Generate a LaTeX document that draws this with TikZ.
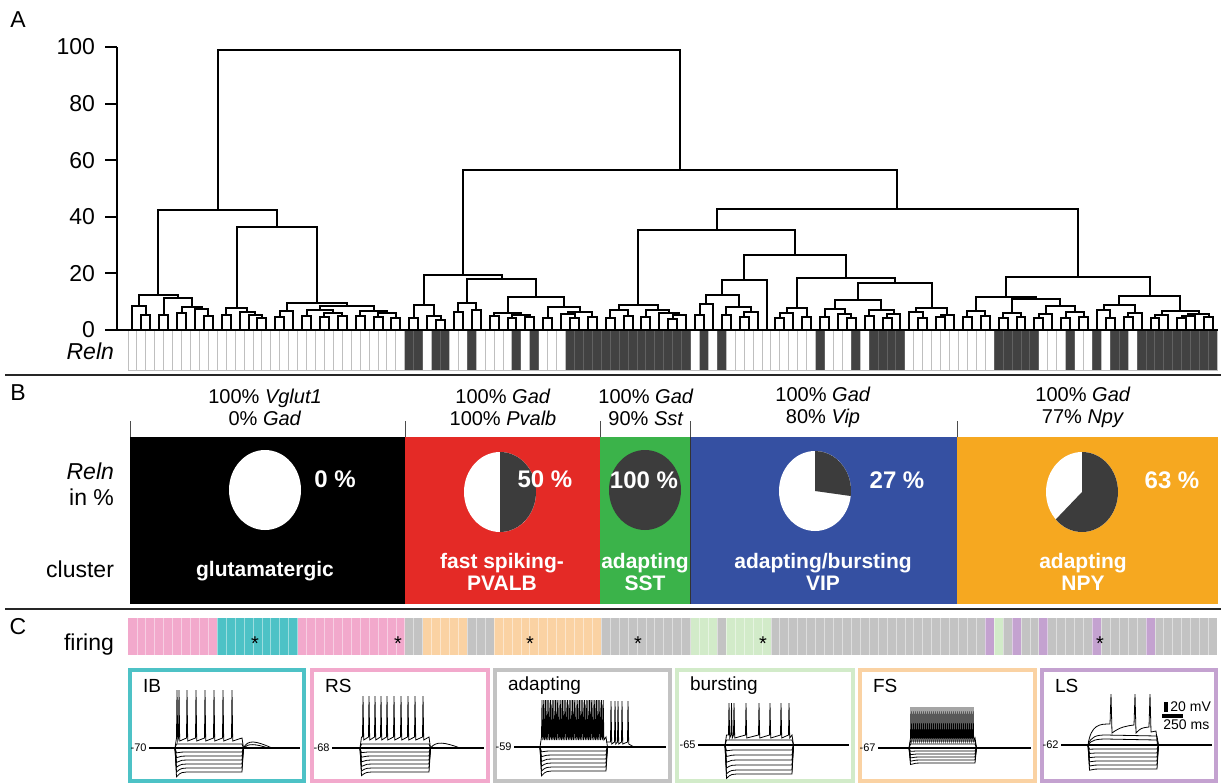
\documentclass[tikz,border=0pt]{standalone}
\usepackage{fontspec}
\setmainfont{Liberation Sans}
\definecolor{cred}{HTML}{E42A26}
\definecolor{cgreen}{HTML}{3BB34A}
\definecolor{cblue}{HTML}{3550A2}
\definecolor{corange}{HTML}{F6A820}
\definecolor{pdark}{HTML}{3C3C3C}
\definecolor{relndark}{HTML}{424242}
\definecolor{fpink}{HTML}{F2A9CC}
\definecolor{fcyan}{HTML}{4DC2C6}
\definecolor{fgrey}{HTML}{C3C3C3}
\definecolor{forange}{HTML}{FAD2A3}
\definecolor{fgreen}{HTML}{D2EBC9}
\definecolor{fpurple}{HTML}{C4A2D0}
\newcount\stkp
\newcount\leafn
\def\pushnode#1#2{\global\advance\stkp by 1\relax
  \expandafter\xdef\csname stx\the\stkp\endcsname{#1}%
  \expandafter\xdef\csname sty\the\stkp\endcsname{#2}}
\tikzset{
  dend/.style={line width=1pt},
  tr/.style={line width=0.4pt},
  sep/.style={line width=1.3pt, black!85},
  plab/.style={font=\fontsize{11.5}{13}\selectfont},
  ax/.style={font=\fontsize{11.5}{13}\selectfont},
  gene/.style={font=\fontsize{10}{11}\selectfont, align=center},
  wb/.style={font=\bfseries\fontsize{10.5}{11}\selectfont, text=white, align=center},
  pct/.style={font=\bfseries\fontsize{12}{13}\selectfont, text=white},
  tlab/.style={font=\fontsize{9.5}{11}\selectfont, anchor=west},
  vlab/.style={font=\fontsize{5.5}{6}\selectfont, anchor=east, inner sep=0.5pt},
  star/.style={font=\fontsize{10}{11}\selectfont}
}
\newcommand\hypset[5]{% xs, xe, yb, depths, sag
  \foreach \dep in {#4}{\draw[tr] (#1,#3) -- ({#1+1.5},{#3+\dep*#5}) .. controls ({#1+6},{#3+\dep}) .. ({#1+18},{#3+\dep}) -- (#2,{#3+\dep}) -- ({#2+1.5},#3);}}
\newcommand\spiketrain[6]{% xs, xe, yb, yp, ytop, list
  \draw[tr] (#1,#3) -- ({#1+1.5},#4) \foreach \s in {#6}{ -- ({\s-0.5},#4) -- (\s,#5) -- ({\s+0.7},{#4+3}) } -- (#2,#4) -- ({#2+1.5},#3);}
\newcommand\pieR[3]{%
  \begin{scope}[shift={(#1,#2)}]
  \fill[white] (0,0) ellipse [x radius=36, y radius=40];
  \fill[pdark] (0,0) -- (0,-40) arc[start angle=-90, end angle={-90+3.6*#3}, x radius=36, y radius=40] -- cycle;
  \end{scope}}
\begin{document}
\begin{tikzpicture}[x=0.5pt,y=-0.5pt]
\useasboundingbox (0,0) rectangle (1221,783);
\fill[white] (0,0) rectangle (1221,783);

% ---------------- Panel A ----------------
\node[plab] (labA) at (18,20) {A};
\draw[dend] (117,47) -- (117,330);
\draw[dend] (105,330) -- (1218,330);
\foreach \k/\v in {0/0,1/20,2/40,3/60,4/80,5/100}{
  \draw[dend] (105,{330-56.6*\k}) -- (117,{330-56.6*\k});
  \node[ax, anchor=east] (tick\k) at (102,{330-56.6*\k}) {\v};
}
% dendrogram (postfix: L = leaf, number = merge height in px)
\global\stkp=0 \global\leafn=0
\foreach \tok in {%
L,L,L,315,306,L,L,315,L,L,313,L,L,L,316,309,307,298,295,%
L,L,315,L,L,L,L,318,315,312,308,%
L,L,317,L,311,%
L,L,316,L,L,317,L,L,316,313,310,%
L,L,316,L,L,317,L,L,318,313,311,%
306,303,227,210,%
L,L,318,L,L,L,320,316,305,%
L,L,312,L,L,310,303,%
L,L,316,L,L,318,L,L,317,315,313,%
L,L,318,L,L,L,318,314,L,L,317,312,307,%
297,279,275,%
L,L,318,L,L,316,310,%
L,L,317,L,L,L,319,L,315,313,310,%
305,%
L,L,315,L,304,%
L,L,315,L,L,317,L,312,307,%
295,L,280,%
L,L,318,L,313,L,L,317,308,%
L,L,317,L,L,L,318,314,309,%
L,L,316,L,L,318,L,314,310,%
300,%
L,L,L,318,312,L,L,317,L,315,308,%
283,278,255,%
230,%
L,L,317,L,L,316,311,%
L,L,318,L,L,317,313,%
L,L,318,L,314,L,L,318,L,L,317,312,306,%
299,297,%
L,L,L,318,310,L,L,317,L,313,305,%
L,L,318,L,315,L,L,318,L,316,L,L,317,314,311,%
296,277,%
209,170,50}{%
  \if L\tok
    \pgfmathsetmacro\lx{132.47+8.93*\the\leafn}%
    \global\advance\leafn by 1\relax
    \pushnode{\lx}{330}%
  \else
    \edef\xr{\csname stx\the\stkp\endcsname}%
    \edef\yr{\csname sty\the\stkp\endcsname}%
    \global\advance\stkp by -1\relax
    \edef\xl{\csname stx\the\stkp\endcsname}%
    \edef\yl{\csname sty\the\stkp\endcsname}%
    \global\advance\stkp by -1\relax
    \draw[dend] (\xl,\yl) -- (\xl,\tok) -- (\xr,\tok) -- (\xr,\yr);
    \pgfmathsetmacro\xm{(\xl+\xr)/2}%
    \pushnode{\xm}{\tok}%
  \fi
}
% Reln stripes
\foreach \i in {31,32,34,35,38,43,45,49,50,51,52,53,54,55,56,57,58,59,60,61,62,64,66,77,81,83,84,85,86,97,98,99,100,101,105,108,110,111,113,114,115,116,117,118,119,120,121}
  \fill[relndark] ({128+8.93*\i},331) rectangle ({128+8.93*(\i+1)},370);
\foreach \i in {0,...,122}
  \draw[gray, opacity=.5, line width=0.5pt] ({128+8.93*\i},331) -- ({128+8.93*\i},370);
\draw[gray!50, line width=0.5pt] (128,370.5) -- (1217.5,370.5);
\node[ax, anchor=east, font=\itshape\fontsize{11.5}{13}\selectfont] (relnA) at (121,351) {Reln};
\draw[sep] (5,375) -- (1221,375);

% ---------------- Panel B ----------------
\node[plab] (labB) at (18,393) {B};
\foreach \x in {130,405,600,690,957}
  \draw[black!70, line width=0.5pt] (\x,421) -- (\x,437);
\fill[black]   (130,437) rectangle (405,604);
\fill[cred]    (405,437) rectangle (600,604);
\fill[cgreen]  (600,437) rectangle (690,604);
\fill[cblue]   (690,437) rectangle (957,604);
\fill[corange] (957,437) rectangle (1218,604);
\draw[black!80, line width=0.4pt] (690,437) -- (690,604);
\node[gene] (g1) at (265,407) {100\% \textit{Vglut1}\\0\% \textit{Gad}};
\node[gene] (g2) at (503,407) {100\% \textit{Gad}\\100\% \textit{Pvalb}};
\node[gene] (g3) at (646,407) {100\% \textit{Gad}\\90\% \textit{Sst}};
\node[gene] (g4) at (823,407) {100\% \textit{Gad}\\80\% \textit{Vip}};
\node[gene] (g5) at (1083,407) {100\% \textit{Gad}\\77\% \textit{Npy}};
\node[ax, anchor=east, align=right] (relnB) at (121,484) {\textit{Reln}\\in \%};
\node[ax, anchor=east] (clus) at (121,569) {cluster};
\fill[white] (265,490) ellipse [x radius=36, y radius=40];
\pieR{500}{492}{50}
\fill[pdark] (645,490) ellipse [x radius=36, y radius=40];
\pieR{815}{491}{27}
\pieR{1082}{492}{63}
\node[pct] (p1) at (335,479) {0 \%};
\node[pct] (p2) at (545,479) {50 \%};
\node[pct] (p3) at (644,480) {100 \%};
\node[pct] (p4) at (897,480) {27 \%};
\node[pct] (p5) at (1172,480) {63 \%};
\node[wb] (c1) at (265,571) {glutamatergic};
\node[wb] (c2) at (502,572) {fast spiking-\\PVALB};
\node[wb] (c3) at (645,572) {adapting\\SST};
\node[wb] (c4) at (823,572) {adapting/bursting\\VIP};
\node[wb] (c5) at (1083,572) {adapting\\NPY};
\draw[sep] (5,609) -- (1221,609);

% ---------------- Panel C ----------------
\node[plab] (labC) at (18,627) {C};
\node[ax, anchor=east] (fir) at (121,645) {firing};
\foreach \a/\b/\c in {0/9/fpink,10/18/fcyan,19/30/fpink,31/32/fgrey,33/37/forange,38/40/fgrey,41/52/forange,53/62/fgrey,63/65/fgreen,66/66/fgrey,67/71/fgreen,72/95/fgrey,96/96/fpurple,97/97/fgreen,98/98/fgrey,99/99/fpurple,100/101/fgrey,102/102/fpurple,103/107/fgrey,108/108/fpurple,109/113/fgrey,114/114/fpurple,115/121/fgrey}
  \fill[\c] ({128+8.93*\a},618) rectangle ({128+8.93*(\b+1)},655);
\foreach \i in {1,...,121}
  \draw[white, opacity=.45, line width=0.4pt] ({128+8.93*\i},618) -- ({128+8.93*\i},655);
\foreach \x [count=\n] in {255,398,530,638,763,1100}
  \node[star] (ast\n) at (\x,644) {*};

% trace boxes
\foreach \nm/\xa/\xb/\c/\t in {bIB/128/306/fcyan/IB,bRS/310/490/fpink/RS,bAD/493/672/fgrey/adapting,bBU/675/855/fgreen/bursting,bFS/858/1037/forange/FS,bLS/1040/1218/fpurple/LS}{
  \draw[\c, line width=2pt] ({\xa+2},670) rectangle ({\xb-2},781);
  \node[tlab] (\nm lab) at ({\xa+8},686) {\t};
}
% IB
\node[vlab] (vIB) at (148,748) {-70};
\draw[tr, line width=0.9pt] (149,748) -- (300,748);
\hypset{175}{242}{748}{4,8,12,16,20,24}{1.2}
\draw[tr] (175,748) -- (176.5,744) -- (242,744) -- (243.5,748);
\spiketrain{175}{242}{748}{738}{690}{177,179,187,196,205,214,223,232}
\draw[tr] (243.5,748) .. controls (248,739) and (256,741) .. (272,748);
\draw[tr] (243.5,748) .. controls (248,743) and (256,744) .. (268,748);
% RS
\node[vlab] (vRS) at (331,748) {-68};
\draw[tr, line width=0.9pt] (332,748) -- (484,748);
\hypset{360}{429}{748}{4,8,12,16,20,24}{1.15}
\draw[tr] (360,748) -- (361.5,744) -- (429,744) -- (430.5,748);
\spiketrain{360}{429}{748}{737}{696}{363,369,375,381,387,394,401,408,415,423}
\draw[tr] (430.5,748) .. controls (436,741) and (444,742) .. (460,748);
% adapting
\node[vlab] (vAD) at (513,747) {-59};
\draw[tr, line width=0.9pt] (514,747) -- (666,747);
\hypset{540}{606}{747}{4,8,12,16,20,24}{1.2}
\spiketrain{540}{606}{747}{737}{700}{542,543.7,...,604}
\draw[tr] (606,742) \foreach \s in {611,615,618,622,628}{ -- ({\s-0.5},742) -- (\s,701) -- ({\s+0.7},744) } -- (634,747);
% bursting
\node[vlab] (vBU) at (697,745) {-65};
\draw[tr, line width=0.9pt] (698,745) -- (849,745);
\hypset{725}{792}{745}{5,10,15,20,25,29}{1.15}
\draw[tr] (725,745) -- (726.5,740) -- (792,740) -- (793.5,745);
\spiketrain{725}{792}{745}{735}{703}{729,731.5,734,746,759,770,781,789}
% FS
\node[vlab] (vFS) at (877,748) {-67};
\draw[tr, line width=0.9pt] (878,748) -- (1031,748);
\hypset{909}{975}{748}{3,6,9,12,15}{1.1}
\draw[tr] (909,748) -- (910.5,744) -- (975,744) -- (976.5,748);
\draw[tr] (909,748) -- (910.5,741) -- (975,741) -- (976.5,748);
\spiketrain{909}{975}{748}{738}{707}{911,913,...,973}
% LS
\node[vlab] (vLS) at (1060,745) {-62};
\draw[tr, line width=0.9pt] (1061,745) -- (1212,745);
\hypset{1088}{1157}{745}{4,8,12,16,20,24}{1.05}
\draw[tr] (1088,745) .. controls (1091,736) and (1097,735) .. (1106,735) -- (1157,736) -- (1158.5,745);
\draw[tr] (1088,745) .. controls (1091,740) and (1097,739) .. (1106,739) -- (1157,740) -- (1158.5,745);
\draw[tr] (1088,745) .. controls (1091,724) and (1100,724) .. (1110,724) -- (1111,694) -- (1112,733) .. controls (1120,727) and (1126,726) .. (1134,725) -- (1135,694) -- (1136,733) .. controls (1141,728) .. (1149,727) -- (1150,694) -- (1151,732) -- (1156,731) -- (1157.5,745);
% scale bar
\coordinate (sbv1) at (1166,702);
\coordinate (sbv2) at (1166,712);
\coordinate (sbh1) at (1162,716);
\coordinate (sbh2) at (1183,716);
\draw[line width=1.6pt] (sbv1) -- (sbv2);
\draw[line width=1.6pt] (sbh1) -- (sbh2);
\node[font=\fontsize{7}{8}\selectfont, anchor=west, inner sep=1pt] (sb20) at (1168,707) {20 mV};
\node[font=\fontsize{7}{8}\selectfont, anchor=west, inner sep=1pt] (sb250) at (1161,725) {250 ms};
\end{tikzpicture}
\end{document}
